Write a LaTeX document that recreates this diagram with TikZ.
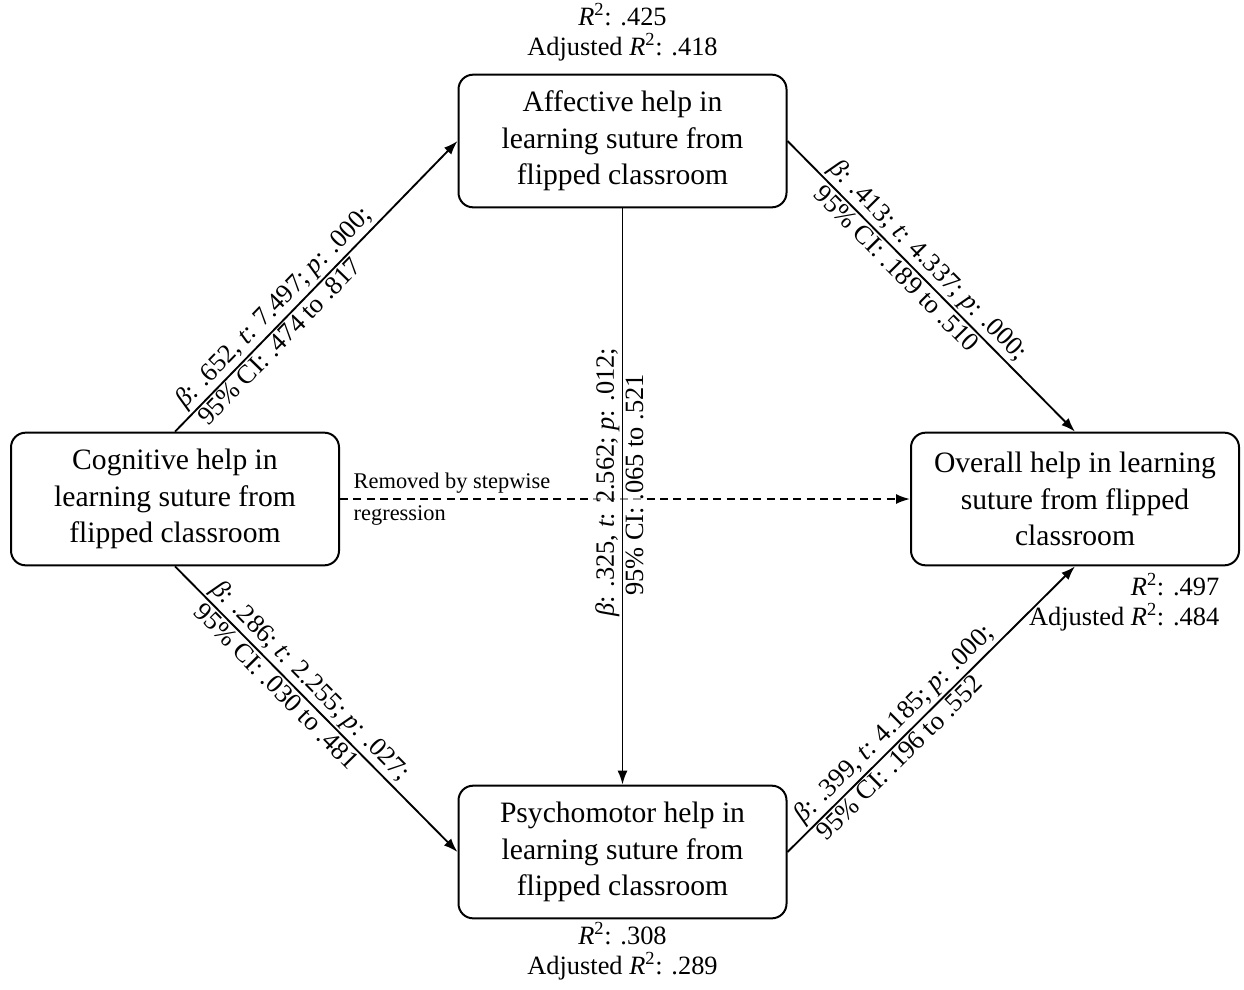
\documentclass[tikz,border=0pt]{standalone}
\usepackage{fontspec}
\setmainfont{Liberation Serif}
\usetikzlibrary{arrows.meta}
\begin{document}
\begin{tikzpicture}[x=0.75pt,y=-0.75pt,
  box/.style={draw, line width=1.5pt, rounded corners=11pt, minimum width=246pt, minimum height=99.5pt, align=center, font=\fontsize{22.2}{27.4}\selectfont, inner sep=0pt},
  arr/.style={line width=1.4pt, -{Latex[length=10.5pt,width=7.5pt]}},
  lab/.style={font=\fontsize{19.8}{22}\selectfont, sloped, inner sep=1.5pt},
  vlab/.style={font=\fontsize{19.8}{22}\selectfont, rotate=90, inner sep=1.5pt, fill=white, fill opacity=0.6, text opacity=1},
  rsq/.style={font=\fontsize{19.8}{22.5}\selectfont},
]
\useasboundingbox (0,0) rectangle (1244,989);

\node[box] (aff) at (622.5,141) {Affective help in\\learning suture from\\flipped classroom};
\node[box] (cog) at (175,499) {Cognitive help in\\learning suture from\\flipped classroom};
\node[box] (ovr) at (1075,499) {Overall help in learning\\suture from flipped\\classroom};
\node[box] (psy) at (622.5,852) {Psychomotor help in\\learning suture from\\flipped classroom};

\node[rsq, align=center] (r1) at (622.5,32) {\textit{R}\textsuperscript{2}: .425\\Adjusted \textit{R}\textsuperscript{2}: .418};
\node[rsq, align=center] (r2) at (622.5,951) {\textit{R}\textsuperscript{2}: .308\\Adjusted \textit{R}\textsuperscript{2}: .289};
\node[rsq, align=right, anchor=east] (r3) at (1224,602) {\textit{R}\textsuperscript{2}: .497\\Adjusted \textit{R}\textsuperscript{2}: .484};

\draw[arr, dash pattern=on 6pt off 4pt] (cog.east) -- (ovr.west);
\node[font=\fontsize{16.8}{24}\selectfont, align=left, anchor=west] (rm) at (349,499) {Removed by stepwise\\regression};

\draw[arr] (cog.north) -- node[lab, above, pos=0.39]{\textit{β}: .652, \textit{t}: 7.497; \textit{p}: .000;} node[lab, below, pos=0.34]{95\% CI: .474 to .817} (aff.west);
\draw[arr] (aff.east) -- node[lab, above, pos=0.45]{\textit{β}: .413; \textit{t}: 4.337; \textit{p}: .000;} node[lab, below, pos=0.41]{95\% CI: .189 to .510} (ovr.north);
\draw[arr] (cog.south) -- node[lab, above, pos=0.44]{\textit{β}: .286; \textit{t}: 2.255; \textit{p}: .027;} node[lab, below, pos=0.39]{95\% CI: .030 to .481} (psy.west);
\draw[arr] (psy.east) -- node[lab, above, pos=0.41]{\textit{β}: .399, \textit{t}: 4.185; \textit{p}: .000;} node[lab, below, pos=0.36]{95\% CI: .196 to .552} (ovr.south);
\draw[arr] (aff.south) -- node[vlab, anchor=south, pos=0.475]{\textit{β}: .325, \textit{t}: 2.562; \textit{p}: .012;} node[vlab, anchor=north, pos=0.48]{95\% CI: .065 to .521} (psy.north);
\end{tikzpicture}
\end{document}
